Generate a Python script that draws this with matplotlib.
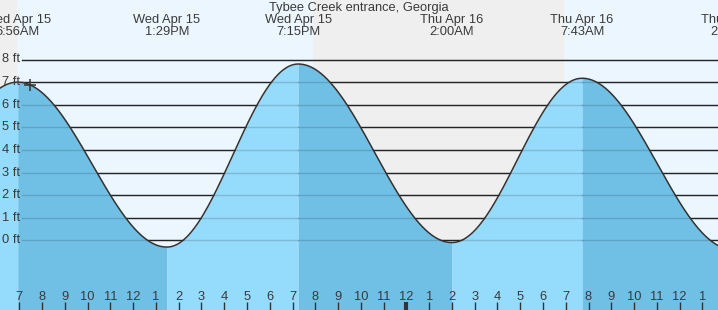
import numpy as np
import matplotlib
matplotlib.use("Agg")
import matplotlib.pyplot as plt

plt.rcParams['font.family'] = ['Liberation Sans', 'DejaVu Sans']

# tide extremes, hours since midnight Wed Apr 15
ext_t = [0.6, 6.933, 13.483, 19.25, 26.0, 31.717, 38.32]
ext_h = [-0.2, 7.0, -0.3, 7.8, -0.1, 7.17, -0.4]
ext_day = ["Wed Apr 15", "Wed Apr 15", "Wed Apr 15", "Wed Apr 15",
           "Thu Apr 16", "Thu Apr 16", "Thu Apr 16"]
ext_time = ["12:36AM", "6:56AM", "1:29PM", "7:15PM", "2:00AM", "7:43AM", "2:19PM"]

# daylight: sunrise / sunset (hours since midnight Apr 15)
day_spans = [(6.90, 19.90), (30.91, 44.0)]

hour_ticks = list(range(7, 38))
hour_labels = [str((h - 1) % 12 + 1) for h in hour_ticks]
ft_levels = list(range(0, 9))

title = "Tybee Creek entrance, Georgia"

TXT = '#3a3a3a'
DAY = '#ebf6fe'
NIGHT = '#efefef'
RISE = '#95dbfc'
FALL = '#70c0e6'

PXH = 22.77  # px per hour
X0 = 6.152
W, H = 718, 310

fig = plt.figure(figsize=(W / 100, H / 100), dpi=100)
ax = fig.add_axes([0, 0, 1, 1])
ax.set_xlim(X0, X0 + W / PXH)
ax.set_ylim(-(H - 240.3) / 22.6, 240.3 / 22.6)
for s in ax.spines.values():
    s.set_visible(False)
ax.set_yticks([])

ax.set_facecolor(NIGHT)
for a, b in day_spans:
    ax.axvspan(a, b, color=DAY, lw=0, zorder=0)


def tide(t):
    t = np.asarray(t, float)
    out = np.empty_like(t)
    for i in range(len(ext_t) - 1):
        m = (t >= ext_t[i]) & (t <= ext_t[i + 1])
        f = (t[m] - ext_t[i]) / (ext_t[i + 1] - ext_t[i])
        out[m] = ext_h[i] + (ext_h[i + 1] - ext_h[i]) * (1 - np.cos(np.pi * f)) / 2
    return out


lo, hi = ax.get_xlim()
ybot = ax.get_ylim()[0]
for i in range(len(ext_t) - 1):
    a, b = max(ext_t[i], lo - 1), min(ext_t[i + 1], hi + 1)
    if a >= b:
        continue
    tt = np.linspace(a, b, 300)
    col = FALL if ext_h[i + 1] < ext_h[i] else RISE
    ax.fill_between(tt, tide(tt), ybot, color=col, lw=0, zorder=2)

tt = np.linspace(lo, hi, 1500)
ax.plot(tt, tide(tt), color='#333333', lw=1.1, zorder=4)

# grid lines (under water, plus faint overlay on the water)
for v in ft_levels:
    ax.axhline(v, xmin=22 / W, xmax=1, color='#2b2b2b', lw=1.0, zorder=1)
    ax.axhline(v, xmin=22 / W, xmax=1, color='black', alpha=0.15, lw=1.0, zorder=3)
    ax.text(20 / W, v, f"{v} ft", transform=ax.get_yaxis_transform(),
            ha='right', va='center', fontsize=9.3, color=TXT, zorder=5)

# current-time marker
ax.plot([7.47], tide([7.47]), marker='+', ms=8, mew=1.1, color='#333333', zorder=5)

# header
ax.text(0.5, 1 - 8 / H, title, transform=ax.transAxes, ha='center', va='center',
        fontsize=9.3, color=TXT, zorder=6)
xtr = ax.get_xaxis_transform()
for t, d, s in zip(ext_t, ext_day, ext_time):
    ax.text(t, 1 - 20 / H, d, transform=xtr, ha='center', va='center',
            fontsize=9.3, color=TXT, zorder=6)
    ax.text(t, 1 - 32 / H, s, transform=xtr, ha='center', va='center',
            fontsize=9.3, color=TXT, zorder=6)

# hour axis
ax.xaxis.set_zorder(6)
ax.set_xticks(hour_ticks)
ax.set_xticklabels(hour_labels, fontsize=9.3, color=TXT)
ax.tick_params(axis='x', direction='in', length=5.8, width=1.0, color='#333333', pad=-14)
mid = hour_ticks.index(24)
ax.xaxis.get_major_ticks()[mid].tick1line.set_markeredgewidth(3)

fig.savefig('out.png', dpi=100)
